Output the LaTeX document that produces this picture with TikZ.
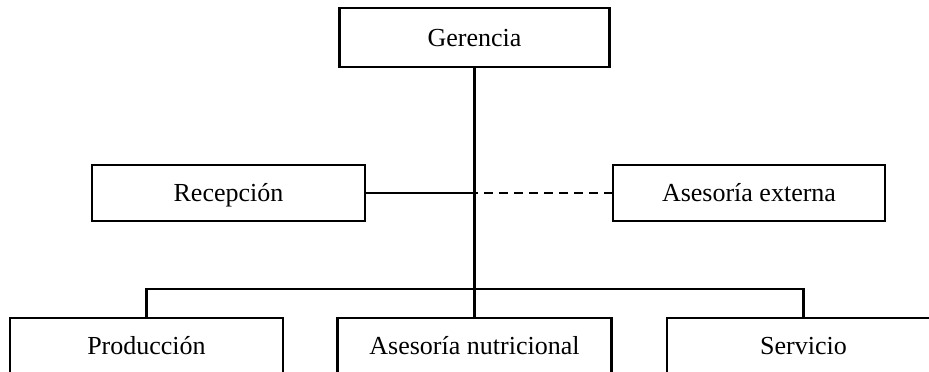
\documentclass[tikz,border=0pt]{standalone}
\usepackage{fontspec}
\setmainfont{Liberation Serif}
\begin{document}
\begin{tikzpicture}[x=1pt,y=1pt,
  unit/.style={draw, line width=2.6pt, inner sep=0pt, outer sep=0pt,
    minimum width=272pt, text height=17pt, text depth=0pt,
    font=\fontsize{26}{30}\selectfont},
  tall/.style={minimum height=59pt},
  short/.style={minimum height=56pt},
  low/.style={minimum height=55pt},
  link/.style={line width=2.2pt},
  trunk/.style={line width=3pt},
  advice/.style={line width=2.2pt, dash pattern=on 9pt off 6pt}]
\clip (0,0) rectangle (929,-372);
\fill[white] (0,0) rectangle (929,-372);

% units
\node[unit, tall, minimum width=270pt] (ger) at (474.5,-37.5) {Gerencia};
\node[unit, short, minimum width=273pt] (rec) at (228.5,-193) {Recepción};
\node[unit, short] (ext) at (749,-193) {Asesoría externa};
\node[unit, low, minimum width=273pt] (prod) at (146.5,-345.5) {Producción};
\node[unit, low, minimum width=274pt] (nut) at (474.5,-345.5) {Asesoría nutricional};
\node[unit, low, minimum width=273pt] (serv) at (803.5,-345.5) {Servicio};

% branching point of the lower level
\coordinate (bus) at (474.5,-289);

% reporting lines
\draw[trunk] (ger.south) -- (bus);
\draw[link] (bus) -- (nut.north);
\draw[link] (prod.north) |- (bus) -| (serv.north);
\draw[link] (rec.east) -- (rec.east -| ger.south);
\draw[advice] (ext.west) -- (ext.west -| ger.south);
\end{tikzpicture}
\end{document}
